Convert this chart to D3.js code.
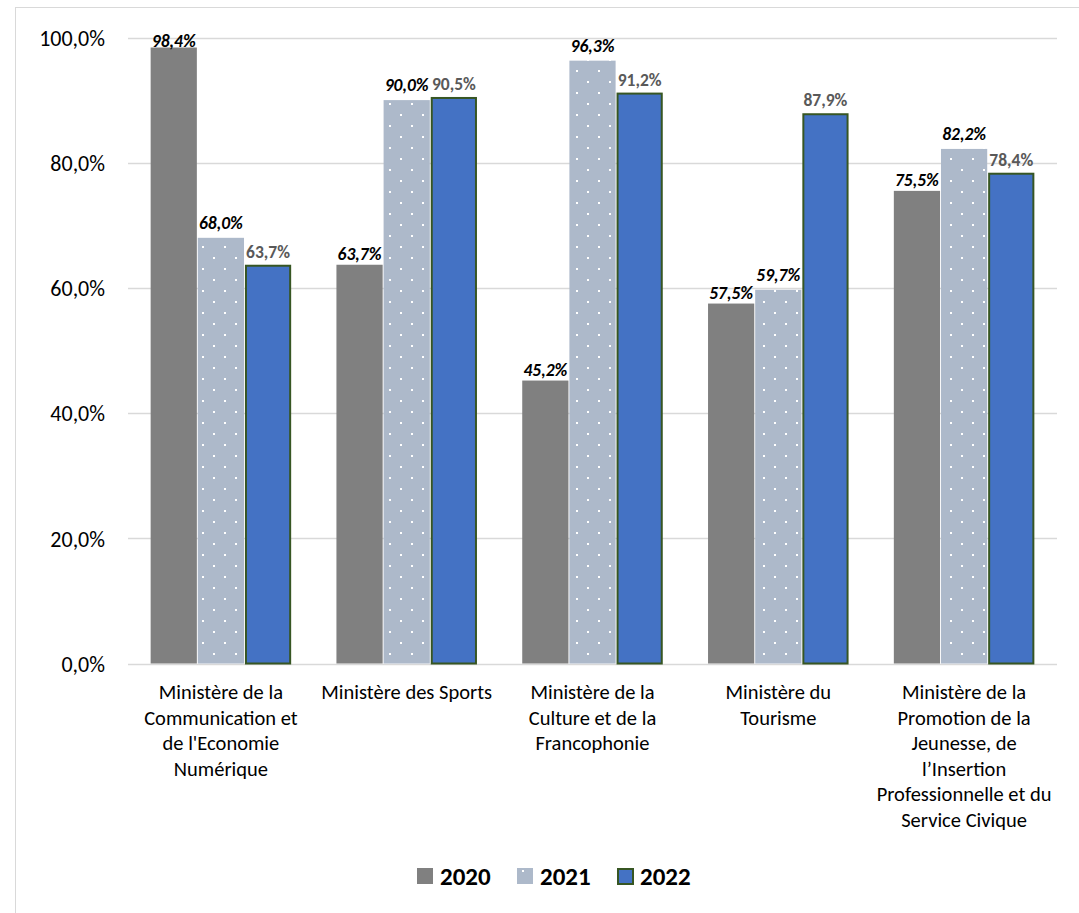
<!DOCTYPE html>
<html><head><meta charset="utf-8">
<script src="https://cdn.jsdelivr.net/npm/d3@7"></script>
<style>
html,body{margin:0;padding:0;background:#fff;}
svg{display:block;font-family:Carlito,Calibri,Lato,"Open Sans",sans-serif;}
</style></head>
<body>
<svg id="c" width="1079" height="913"></svg>
<script>
const categories = [
  ["Ministère de la","Communication et","de l'Economie","Numérique"],
  ["Ministère des Sports"],
  ["Ministère de la","Culture et de la","Francophonie"],
  ["Ministère du","Tourisme"],
  ["Ministère de la","Promotion de la","Jeunesse, de","l’Insertion","Professionnelle et du","Service Civique"]
];
const seriesNames = ["2020","2021","2022"];
const values2020 = [98.4, 63.7, 45.2, 57.5, 75.5];
const values2021 = [68.0, 90.0, 96.3, 59.7, 82.2];
const values2022 = [63.7, 90.5, 91.2, 87.9, 78.4];
const yTicks = [0, 20, 40, 60, 80, 100];

(function(){
const series = [values2020, values2021, values2022];
const svg = d3.select("#c");
const defs = svg.append("defs");
const pat = defs.append("pattern").attr("id","dots").attr("patternUnits","userSpaceOnUse")
  .attr("width",22).attr("height",22);
pat.append("rect").attr("width",22).attr("height",22).attr("fill","#ADB9CA");
pat.append("rect").attr("x",4).attr("y",4).attr("width",2).attr("height",2).attr("fill","#fff");
pat.append("rect").attr("x",15).attr("y",15).attr("width",2).attr("height",2).attr("fill","#fff");

// outer frame
svg.append("rect").attr("x",15.5).attr("y",7.5).attr("width",1100).attr("height",1000)
  .attr("fill","none").attr("stroke","#D9D9D9").attr("stroke-width",1);

const pLeft=128, pRight=1057, pTop=37.5, pBottom=663.5;
const y = d3.scaleLinear().domain([0,100]).range([pBottom, pTop]);
const x0 = d3.scaleBand().domain(d3.range(categories.length)).range([pLeft,pRight]).paddingInner(0);
const x1 = d3.scaleBand().domain(d3.range(3)).range([0, x0.bandwidth()]).paddingInner(0.02).paddingOuter(0.48);

const fmt = v => d3.format(".1f")(v).replace(".",",") + "%";

// gridlines
svg.append("g").selectAll("line").data(yTicks).join("line")
  .attr("x1",pLeft).attr("x2",pRight)
  .attr("y1",d=>Math.round(y(d))+0.5).attr("y2",d=>Math.round(y(d))+0.5)
  .attr("stroke","#D9D9D9").attr("stroke-width",1.5);

// y axis labels
const yAxis = d3.axisLeft(y).tickValues(yTicks).tickSize(0).tickPadding(0).tickFormat(d=>fmt(d));
const ya = svg.append("g").attr("transform",`translate(105,0)`).call(yAxis);
ya.select(".domain").remove();
ya.selectAll("text").attr("font-size",22).attr("fill","#000").attr("font-family","Carlito,Calibri,Lato,sans-serif").attr("dy","0.35em");

const fills = ["#808080","url(#dots)","#4472C4"];
const gaps = [5, 9, 7];
const g = svg.append("g");
categories.forEach((c,i)=>{
  series.forEach((s,j)=>{
    const v = s[i];
    const bx = x0(i)+x1(j), bw = x1.bandwidth();
    const r = g.append("rect").attr("x",bx).attr("width",bw)
      .attr("y",y(v)).attr("height",y(0)-y(v)).attr("fill",fills[j]);
    if(j===2){ r.attr("x",bx+1).attr("width",bw-2).attr("y",y(v)+1).attr("height",y(0)-y(v)-1)
      .attr("stroke","#375623").attr("stroke-width",2); }
    const ty = Math.max(y(v)-gaps[j], pTop+9);
    const t = g.append("text").attr("x",bx+bw/2).attr("y",ty)
      .attr("text-anchor","middle").attr("font-size",17.5).attr("font-weight","bold")
      .text(fmt(v));
    if(j<2) t.attr("font-style","italic").attr("fill","#000");
    else t.attr("fill","#595959");
  });
  const ct = svg.append("text").attr("text-anchor","middle").attr("font-size",20.5).attr("fill","#000");
  c.forEach((ln,k)=>{
    ct.append("tspan").attr("x",x0(i)+x0.bandwidth()/2).attr("y",699+k*25.6).text(ln);
  });
});

// legend
const legX = [417, 517, 617];
const lg = svg.append("g");
seriesNames.forEach((n,j)=>{
  const r = lg.append("rect").attr("x",legX[j]).attr("y",868).attr("width",16).attr("height",16).attr("fill",fills[j]);
  if(j===1){ r.attr("fill","#ADB9CA"); lg.append("rect").attr("x",legX[j]+5).attr("y",870).attr("width",2).attr("height",2).attr("fill","#fff"); }
  if(j===2){ r.attr("x",legX[j]+1).attr("y",869).attr("width",15).attr("height",15).attr("stroke","#375623").attr("stroke-width",2); }
  lg.append("text").attr("x",legX[j]+23).attr("y",885).attr("font-size",25).attr("font-weight","bold").attr("fill","#000").text(n);
});
})();
</script>
</body></html>
